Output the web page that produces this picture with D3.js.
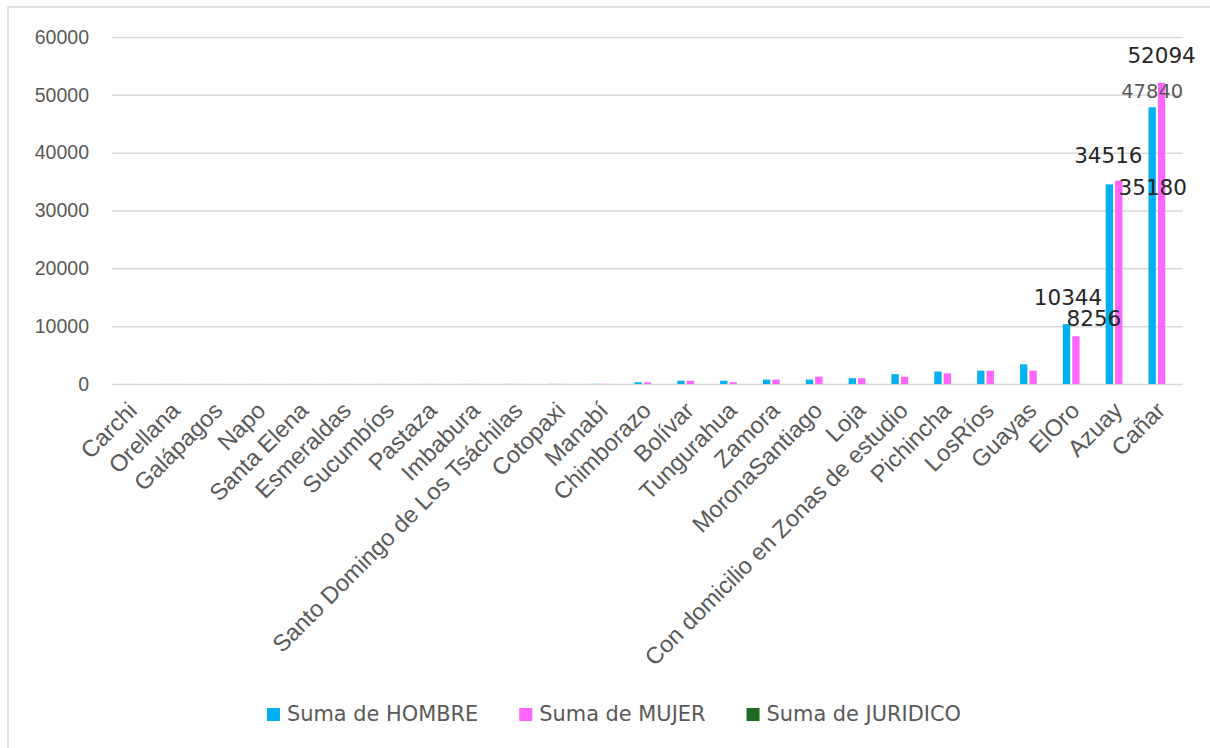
<!DOCTYPE html>
<html>
<head>
<meta charset="utf-8">
<script src="https://cdn.jsdelivr.net/npm/d3@7"></script>
<style>
  body { margin: 0; background: #fff; }
  svg { display: block; font-family: "DejaVu Sans", Inter, sans-serif; }
</style>
</head>
<body>
<div class="visHolder"></div>
<script>
// categories (ordered as in the chart)
const categories = [
  "Carchi", "Orellana", "Galápagos", "Napo", "Santa Elena", "Esmeraldas",
  "Sucumbíos", "Pastaza", "Imbabura", "Santo Domingo de Los Tsáchilas",
  "Cotopaxi", "Manabí", "Chimborazo", "Bolívar", "Tungurahua", "Zamora",
  "MoronaSantiago", "Loja", "Con domicilio en Zonas de estudio", "Pichincha",
  "LosRíos", "Guayas", "ElOro", "Azuay", "Cañar"
];

const seriesNames = ["Suma de HOMBRE", "Suma de MUJER", "Suma de JURIDICO"];

const hombre = [
  2, 3, 4, 5, 6, 8, 10, 12, 15, 18, 22, 30,
  300, 560, 560, 760, 760, 1000, 1700, 2150, 2300, 3400, 10344, 34516, 47840
];
const mujer = [
  2, 3, 4, 5, 6, 8, 10, 12, 15, 18, 22, 30,
  280, 560, 300, 760, 1270, 1000, 1250, 1850, 2300, 2300, 8256, 35180, 52094
];
const juridico = [
  0, 0, 0, 0, 0, 0, 0, 0, 0, 0, 0, 0,
  0, 0, 0, 0, 0, 0, 0, 0, 0, 0, 0, 0, 0
];

const yTicks = [0, 10000, 20000, 30000, 40000, 50000, 60000];

// points that carry a data label
const labelledCategories = ["ElOro", "Azuay", "Cañar"];

// chart setup
const width = 1210;
const height = 748;
const plotLeft = 112, plotRight = 1183, plotTop = 37, plotBottom = 384;
const colors = ["#00b0f0", "#ff66ff", "#1e6b24"];

const seriesValues = [hombre, mujer, juridico];
const rows = categories.map((c, i) => ({
  cat: c,
  values: seriesNames.map((s, k) => ({ series: s, k: k, value: seriesValues[k][i], cat: c }))
}));

const svg = d3.select(".visHolder")
  .append("svg")
  .attr("width", width)
  .attr("height", height);

// outer border of the chart area
svg.append("rect")
  .attr("x", 8).attr("y", 7)
  .attr("width", width + 10).attr("height", height + 10)
  .attr("fill", "#fff")
  .attr("stroke", "#d9d9d9")
  .attr("stroke-width", 1.5);

const x0 = d3.scaleBand()
  .domain(categories)
  .range([plotLeft, plotRight])
  .paddingInner(0.39)
  .paddingOuter(0.195);

const x1 = d3.scaleBand()
  .domain(seriesNames)
  .range([0, x0.bandwidth()])
  .paddingInner(0.22);

const y = d3.scaleLinear()
  .domain([0, 60000])
  .range([plotBottom, plotTop]);

// y axis + gridlines
const yAxis = d3.axisLeft(y)
  .tickValues(yTicks)
  .tickFormat(d3.format("d"))
  .tickSizeInner(-(plotRight - plotLeft))
  .tickSizeOuter(0)
  .tickPadding(23);

const gy = svg.append("g")
  .attr("transform", `translate(${plotLeft},0)`)
  .call(yAxis);
gy.select(".domain").remove();
gy.selectAll(".tick line").attr("stroke", "#d9d9d9").attr("stroke-width", 1.5);
gy.selectAll(".tick text")
  .attr("fill", "#595959")
  .style("font-size", "19.5px");

// x axis labels
const xAxis = d3.axisBottom(x0).tickSize(0).tickPadding(0);
const gx = svg.append("g")
  .attr("transform", `translate(0,${plotBottom + 23})`)
  .call(xAxis);
gx.select(".domain").remove();
gx.selectAll(".tick text")
  .attr("fill", "#595959")
  .style("font-size", "23.5px")
  .attr("text-anchor", "end")
  .attr("y", 0)
  .attr("dy", "0.3em")
  .attr("transform", "rotate(-45)");

// bars
const groups = svg.append("g")
  .selectAll("g")
  .data(rows)
  .enter()
  .append("g")
  .attr("transform", (d) => `translate(${x0(d.cat)},0)`);

groups.selectAll("rect")
  .data((d) => d.values)
  .enter()
  .append("rect")
  .attr("x", (d) => x1(d.series))
  .attr("y", (d) => y(d.value))
  .attr("width", x1.bandwidth())
  .attr("height", (d) => plotBottom - y(d.value))
  .attr("fill", (d) => colors[d.k]);

// data labels (moved by hand in the original, so each gets a nudge)
const nudge = {
  "ElOro|0": [1.5, -19], "ElOro|1": [18, -10],
  "Azuay|0": [-1, -21], "Azuay|1": [34, 14],
  "Cañar|0": [0, -9], "Cañar|1": [0, -20]
};

const labelData = rows
  .filter((r) => labelledCategories.includes(r.cat))
  .flatMap((r) => r.values.filter((v) => v.k < 2));

svg.append("g")
  .selectAll("text")
  .data(labelData)
  .enter()
  .append("text")
  .attr("x", (d) => x0(d.cat) + x1(d.series) + x1.bandwidth() / 2 + nudge[d.cat + "|" + d.k][0])
  .attr("y", (d) => y(d.value) + nudge[d.cat + "|" + d.k][1])
  .attr("text-anchor", "middle")
  .attr("fill", (d) => (d.cat === "Cañar" && d.k === 0 ? "#595959" : "#262626"))
  .style("font-size", (d) => (d.cat === "Cañar" && d.k === 0 ? "19.5px" : "21.5px"))
  .text((d) => d.value);

// legend
const legend = svg.append("g").attr("transform", "translate(0,714)");
let lx = 0;
const items = legend.selectAll("g")
  .data(seriesNames)
  .enter()
  .append("g");

items.append("rect")
  .attr("y", -6)
  .attr("width", 13)
  .attr("height", 13)
  .attr("fill", (d, i) => colors[i]);

items.append("text")
  .attr("x", 20)
  .attr("dy", "0.35em")
  .attr("fill", "#595959")
  .style("font-size", "20.9px")
  .text((d) => d);

items.each(function () {
  const w = d3.select(this).select("text").node().getComputedTextLength();
  d3.select(this).attr("transform", `translate(${lx},0)`);
  lx += 20 + w + 41;
});
const legendWidth = lx - 41;
legend.attr("transform", `translate(${614 - legendWidth / 2},714)`);
</script>
</body>
</html>
